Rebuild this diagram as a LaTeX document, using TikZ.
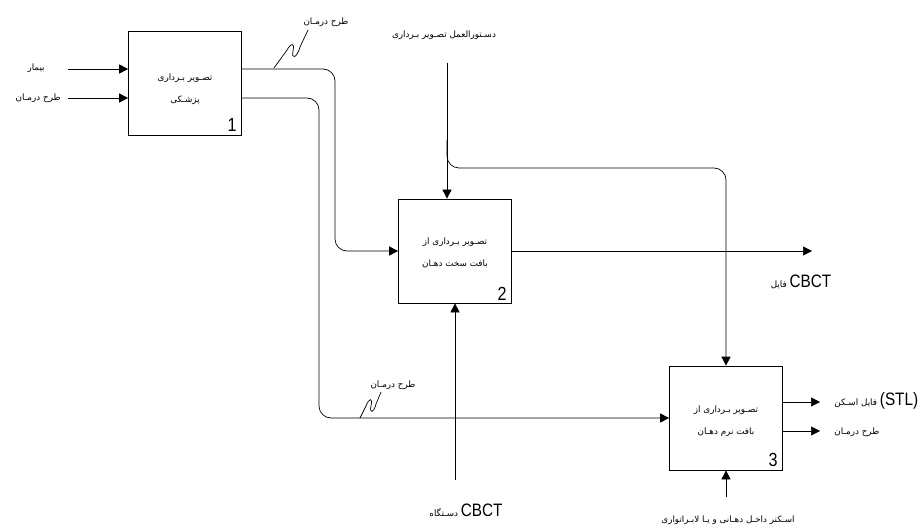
\documentclass[tikz,border=0pt]{standalone}
\usepackage{fontspec}
\setmainfont{Liberation Sans}
\newfontfamily\fafont[Script=Arabic]{DejaVu Sans}
\newfontfamily\latfont[FakeStretch=0.85]{Liberation Sans}
\usetikzlibrary{arrows.meta, positioning}
\TeXXeTstate=1
\newcommand\lat[1]{{\latfont\fontsize{18}{18}\selectfont #1}}
\newcommand\fa[1]{\beginR #1\endR}

\begin{document}
\begin{tikzpicture}[x=1pt, y=-1pt, line width=0.7pt, >={Triangle[length=9pt, width=9pt]},
  box/.style={draw, minimum width=113pt, minimum height=104pt, inner sep=0pt},
  lbl/.style={font=\fafont\fontsize{8.8}{22}\selectfont, inner sep=1pt},
  num/.style={font=\latfont\fontsize{19}{19}\selectfont, inner sep=0pt}]
\useasboundingbox (0,0) rectangle (923,529);
% activities
\node[box] (b1) at (185,83) {};
\node[box] (b2) at (455,251) {};
\node[box] (b3) at (726,418) {};
\node[lbl, align=center] (t1) at (185,89) {\fa{تصـویر بـرداری}\\\fa{پزشـکی}};
\node[lbl, align=center] (t2) at (455,253) {\fa{تصـویر بـرداری از}\\\fa{بافت سخت دهـان}};
\node[lbl, align=center] (t3) at (726,421) {\fa{تصـویر بـرداری از}\\\fa{بافت نرم دهـان}};
\node[num, anchor=south east] (n1) at ([xshift=-5pt, yshift=3pt]b1.south east) {1};
\node[num, anchor=south east] (n2) at ([xshift=-5pt, yshift=3pt]b2.south east) {2};
\node[num, anchor=south east] (n3) at ([xshift=-5pt, yshift=3pt]b3.south east) {3};
% inputs
\coordinate (i1) at (68,69);
\coordinate (i2) at (68,98);
\node[lbl, anchor=east] (li1) at (46,68) {\fa{بیمار}};
\node[lbl, anchor=east] (li2) at (62,98) {\fa{طرح درمـان}};
\draw[->] (i1) -- (b1.west |- i1);
\draw[->] (i2) -- (b1.west |- i2);
% outputs of 1
\draw[->, rounded corners=12pt] (b1.east |- i1) -| (335,251) -- (b2.west);
\draw[->, rounded corners=12pt] (b1.east |- i2) -| (319,418) -- (b3.west);
\draw (274,68) -- (287,50) .. controls (291,43) and (295,42) .. (293,51) .. controls (291,60) and (297,58) .. (300,47) -- (308,30);
\node[lbl] (lo1) at (326,22) {\fa{طرح درمـان}};
\draw (360,418) -- (366,406) .. controls (369,398) and (373,397) .. (371,406) .. controls (369,414) and (374,413) .. (376,404) -- (381,392);
\node[lbl] (lo1b) at (393,385) {\fa{طرح درمـان}};
% control
\coordinate (c0) at (447,63);
\coordinate (c1) at (447,140);
\node[lbl] (lc) at (444,35) {\fa{دسـتورالعمل تصـویر بـرداری}};
\draw[->] (c0) -- (c0 |- b2.north);
\draw[->, rounded corners=12pt] (c1) |- (726,168) -- (b3.north);
% output of 2
\coordinate (o2) at (812,251);
\draw[->] (b2.east) -- (o2);
\node[lbl] (lo2) at (801,282) {\fa{فایل} \lat{CBCT}};
% mechanisms
\coordinate (m2) at (455,480);
\coordinate (m3) at (726,497);
\draw[->] (m2) -- (b2.south);
\draw[->] (m3) -- (b3.south);
\node[lbl] (lm2) at (466,510) {\fa{دسـتگاه} \lat{CBCT}};
\node[lbl] (lm3) at (728,520) {\fa{اسـکنر داخـل دهـانی و یـا لابـراتواری}};
% outputs of 3
\coordinate (o3a) at (820,402);
\coordinate (o3b) at (820,431);
\draw[->] (b3.east |- o3a) -- (o3a);
\draw[->] (b3.east |- o3b) -- (o3b);
\node[lbl, anchor=west] (lo3a) at (833,401) {\fa{فایل اسـکن} \lat{(STL)}};
\node[lbl, anchor=west] (lo3b) at (833,432) {\fa{طرح درمـان}};
\end{tikzpicture}
\end{document}
